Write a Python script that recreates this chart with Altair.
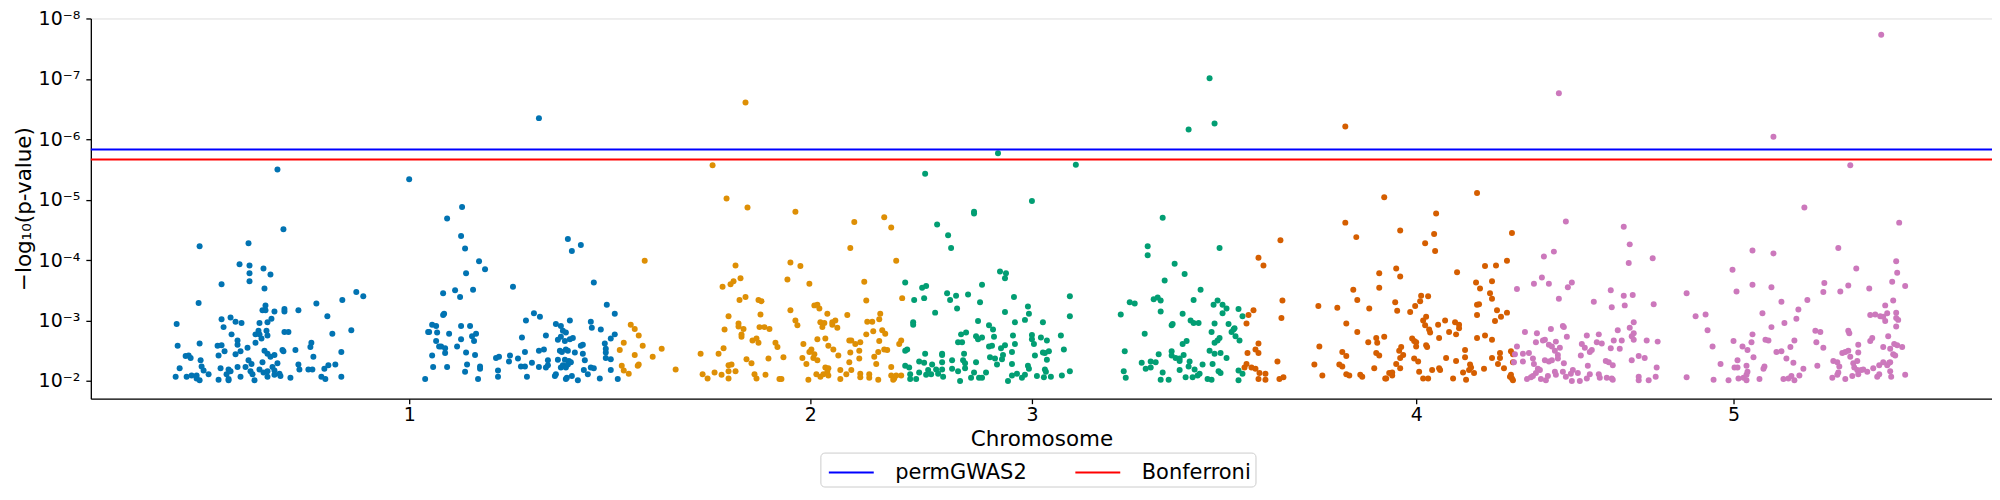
import pandas as pd
import altair as alt

# chromosome names, colours (seaborn colorblind) and where the axis puts their labels
chromosomes = ["1", "2", "3", "4", "5"]
chrom_colors = ["#0173B2", "#DE8F05", "#029E73", "#D55E00", "#CC78BC"]
chrom_tick_pos = [410, 812, 1034, 1419, 1737]

# y ticks (log10 p) and their labels
ytick_values = [-8, -7, -6, -5, -4, -3, -2]
ytick_labels = ["10⁻⁸", "10⁻⁷", "10⁻⁶", "10⁻⁵", "10⁻⁴", "10⁻³", "10⁻²"]

# significance thresholds
threshold_names = ["permGWAS2", "Bonferroni"]
threshold_log10p = [-5.83, -5.666]
threshold_colors = ["#0000FF", "#FF0000"]

# (cumulative position, log10 p-value) per chromosome
chr1 = [
    (177, -2.94), (178, -2.58), (176, -2.07), (180, -2.21), (186, -2.41), (189, -2.42), (191, -2.38),
    (187, -2.07), (192, -2.09), (197, -2.04), (197, -2.09), (199, -3.29), (200, -4.23), (200, -2.62),
    (201, -2.34), (200, -2.01), (202, -2.24), (204, -2.17), (209, -2.11), (218, -2.58), (219, -2.42),
    (219, -2.02), (221, -2.21), (222, -3.60), (222, -3.02), (222, -2.59), (224, -2.89), (225, -2.49),
    (227, -2.11), (229, -2.19), (229, -2.03), (229, -2.01), (231, -3.05), (231, -2.16), (232, -2.77),
    (236, -2.98), (236, -2.44), (238, -2.67), (238, -2.60), (238, -2.23), (240, -3.93), (241, -2.07),
    (241, -2.49), (242, -2.96), (246, -2.23), (248, -2.55), (249, -4.28), (249, -2.34), (250, -3.91),
    (250, -3.78), (250, -3.65), (251, -2.16), (252, -2.28), (253, -2.11), (255, -2.01), (256, -2.77),
    (256, -2.63), (259, -2.83), (260, -2.77), (260, -2.96), (260, -2.19), (262, -2.70), (263, -2.31),
    (263, -3.17), (264, -3.86), (264, -2.14), (265, -3.53), (265, -2.50), (266, -3.25), (266, -3.17),
    (267, -2.83), (268, -2.97), (268, -2.75), (268, -2.45), (268, -2.16), (268, -2.07), (271, -3.76),
    (271, -2.40), (272, -3.03), (273, -2.23), (275, -3.15), (275, -2.43), (275, -2.17), (275, -2.10),
    (278, -5.50), (278, -2.29), (280, -2.12), (281, -2.08), (283, -2.51), (284, -4.51), (284, -2.49),
    (285, -3.19), (285, -3.15), (285, -2.81), (289, -2.81), (291, -2.05), (296, -2.51), (299, -3.17),
    (299, -2.27), (300, -2.19), (309, -2.19), (311, -2.56), (312, -2.63), (313, -2.19), (314, -2.40),
    (317, -3.28), (322, -2.07), (325, -2.20), (326, -2.03), (328, -3.07), (329, -2.26), (333, -2.78),
    (336, -2.27), (342, -2.48), (342, -2.07), (343, -3.34), (352, -2.84), (357, -3.47), (364, -3.40),
    (410, -5.34), (426, -2.03), (429, -2.81), (430, -2.81), (433, -2.93), (433, -2.42), (434, -2.23),
    (437, -2.66), (437, -2.91), (438, -2.80), (440, -2.57), (442, -2.57), (444, -3.45), (444, -3.09),
    (445, -3.11), (446, -2.54), (446, -2.46), (448, -4.69), (448, -2.23), (450, -2.78), (456, -3.50),
    (458, -2.57), (461, -3.39), (462, -4.40), (462, -2.91), (462, -2.69), (463, -4.88), (466, -4.19),
    (466, -2.15), (467, -3.78), (467, -2.47), (468, -2.27), (471, -2.91), (473, -2.74), (474, -3.51),
    (475, -2.66), (476, -2.43), (477, -2.78), (479, -2.03), (480, -3.98), (481, -2.24), (481, -2.20),
    (486, -3.85), (497, -2.38), (499, -2.17), (499, -2.07), (500, -2.40), (510, -2.32), (511, -2.42),
    (514, -3.56), (519, -2.37), (522, -2.24), (523, -2.72), (526, -2.48), (526, -2.24), (527, -3.00),
    (528, -2.07), (533, -2.30), (535, -3.12), (540, -6.35), (540, -2.50), (540, -2.23), (541, -3.06),
    (545, -2.52), (547, -2.75), (547, -2.22), (549, -2.34), (549, -2.26), (556, -2.08), (557, -2.94),
    (557, -2.11), (559, -2.68), (559, -2.35), (561, -2.50), (562, -2.91), (562, -2.73), (562, -2.22),
    (563, -2.48), (564, -2.83), (564, -2.26), (566, -2.66), (566, -2.35), (567, -2.80), (567, -2.52),
    (567, -2.22), (567, -2.03), (568, -2.05), (569, -4.35), (569, -2.50), (569, -2.27), (570, -2.33),
    (571, -3.00), (571, -2.69), (572, -2.31), (573, -4.15), (573, -2.08), (574, -2.71), (576, -2.47),
    (579, -2.01), (582, -4.25), (582, -2.58), (584, -2.60), (584, -2.45), (585, -2.18), (586, -2.34),
    (589, -2.11), (592, -2.98), (592, -2.22), (593, -2.88), (595, -3.63), (595, -2.21), (601, -2.04),
    (602, -2.85), (606, -2.62), (607, -2.53), (607, -2.47), (607, -2.38), (608, -3.26), (612, -2.70),
    (612, -2.36), (612, -2.18), (616, -3.11), (616, -2.77), (619, -2.03),
]
chr2 = [
    (621, -2.51), (623, -2.25), (625, -2.63), (625, -2.17), (630, -2.12), (632, -2.93), (636, -2.86),
    (636, -2.43), (639, -2.25), (640, -2.75), (640, -2.27), (644, -2.58), (646, -3.99), (654, -2.40),
    (663, -2.53), (677, -2.19), (702, -2.45), (704, -2.11), (709, -2.04), (714, -5.57), (716, -2.14),
    (720, -2.45), (723, -2.10), (724, -3.56), (725, -2.54), (726, -2.85), (728, -5.02), (730, -3.07),
    (730, -2.26), (730, -2.16), (730, -2.04), (732, -3.60), (733, -2.27), (735, -3.65), (737, -3.91),
    (737, -2.16), (740, -2.95), (740, -2.90), (741, -3.34), (742, -3.70), (743, -2.73), (743, -2.77),
    (745, -2.86), (747, -6.61), (747, -3.39), (748, -2.36), (749, -4.87), (753, -2.29), (754, -2.67),
    (756, -2.11), (758, -2.70), (758, -2.04), (760, -3.34), (760, -2.63), (761, -2.89), (762, -3.10),
    (763, -3.32), (766, -2.89), (767, -2.10), (770, -2.37), (771, -2.86), (777, -2.63), (779, -2.56),
    (781, -2.03), (783, -2.03), (785, -2.39), (789, -3.68), (792, -3.96), (792, -3.17), (797, -4.80),
    (797, -3.00), (799, -2.92), (802, -3.90), (804, -2.38), (805, -2.61), (808, -2.28), (810, -2.02),
    (811, -3.61), (811, -2.48), (813, -2.52), (815, -2.38), (816, -3.25), (816, -2.44), (818, -2.11),
    (819, -3.26), (819, -2.69), (819, -2.34), (821, -3.20), (822, -2.97), (822, -2.07), (824, -2.89),
    (825, -2.11), (826, -2.96), (827, -2.70), (827, -2.22), (829, -3.11), (829, -2.15), (830, -2.58),
    (830, -2.21), (830, -2.09), (834, -2.93), (834, -2.97), (835, -2.52), (837, -3.00), (839, -2.88),
    (840, -2.42), (842, -2.18), (842, -2.03), (848, -2.11), (849, -3.09), (851, -2.31), (851, -2.67),
    (852, -4.20), (852, -2.47), (853, -2.18), (853, -2.67), (856, -4.63), (857, -2.61), (861, -2.50),
    (861, -2.37), (862, -2.64), (862, -2.12), (862, -2.06), (866, -3.64), (868, -3.33), (868, -2.77),
    (869, -2.98), (871, -2.11), (871, -2.05), (874, -2.98), (875, -2.82), (876, -2.40), (878, -2.28),
    (880, -2.02), (880, -2.48), (881, -3.02), (881, -2.66), (882, -3.11), (884, -2.84), (886, -4.71),
    (886, -2.52), (887, -2.78), (889, -2.51), (893, -4.54), (893, -2.23), (893, -2.09), (895, -2.02),
    (896, -2.04), (898, -3.99), (898, -2.09), (901, -2.61), (903, -2.67), (903, -2.09), (904, -3.37),
]
chr3 = [
    (907, -3.63), (907, -2.50), (907, -2.25), (909, -2.52), (911, -2.22), (912, -2.11), (912, -2.03),
    (915, -2.97), (915, -2.93), (916, -3.34), (918, -2.03), (921, -2.32), (921, -2.14), (924, -3.54),
    (926, -3.37), (926, -2.30), (927, -5.43), (927, -2.45), (928, -3.57), (928, -2.10), (930, -2.18),
    (933, -2.11), (934, -2.27), (937, -3.13), (938, -2.19), (939, -4.59), (940, -2.12), (944, -2.45),
    (944, -2.43), (944, -2.31), (944, -2.19), (945, -2.07), (949, -3.45), (950, -4.41), (952, -3.34),
    (953, -4.20), (954, -2.34), (954, -2.20), (958, -3.41), (959, -3.20), (960, -2.64), (960, -2.16),
    (962, -2.00), (963, -2.77), (964, -2.64), (965, -2.34), (966, -2.45), (967, -2.29), (967, -2.21),
    (968, -2.80), (970, -3.43), (973, -2.05), (976, -4.80), (976, -4.77), (976, -2.14), (978, -2.74),
    (978, -2.31), (980, -2.99), (980, -2.69), (981, -2.05), (982, -3.30), (984, -3.59), (984, -2.72),
    (984, -2.05), (988, -2.14), (991, -2.92), (991, -2.57), (992, -2.39), (994, -2.58), (995, -2.85),
    (996, -2.73), (997, -2.37), (999, -2.27), (1000, -5.77), (1002, -3.81), (1003, -2.54), (1004, -2.36),
    (1005, -2.43), (1007, -3.14), (1007, -3.70), (1007, -2.59), (1008, -3.78), (1010, -2.00), (1014, -2.48),
    (1014, -2.28), (1014, -2.09), (1015, -2.75), (1016, -3.39), (1017, -2.97), (1017, -2.61), (1019, -2.12),
    (1024, -2.05), (1027, -3.01), (1027, -2.10), (1030, -3.23), (1030, -2.25), (1031, -3.11), (1031, -2.20),
    (1034, -4.98), (1034, -2.76), (1034, -2.69), (1036, -2.61), (1037, -2.42), (1039, -2.08), (1043, -2.72),
    (1045, -2.97), (1045, -2.47), (1046, -2.06), (1047, -2.46), (1047, -2.19), (1048, -2.15), (1049, -2.67),
    (1049, -2.35), (1051, -2.49), (1053, -2.07), (1063, -2.75), (1064, -2.09), (1066, -2.52), (1072, -3.40),
    (1072, -3.07), (1072, -2.16), (1078, -5.58),
    (1123, -3.10), (1126, -2.16), (1127, -2.49), (1128, -2.05), (1132, -3.30), (1137, -3.28), (1144, -2.30),
    (1147, -2.78), (1148, -2.20), (1150, -4.23), (1150, -4.08), (1153, -2.32), (1153, -2.22), (1156, -3.35),
    (1158, -2.31), (1160, -3.38), (1161, -2.44), (1163, -3.33), (1163, -3.15), (1163, -2.02), (1165, -4.70),
    (1165, -2.14), (1167, -3.66), (1171, -2.02), (1174, -2.49), (1174, -2.42), (1174, -2.92), (1175, -2.94),
    (1177, -3.94), (1178, -2.38), (1182, -2.37), (1182, -2.33), (1182, -2.18), (1185, -3.11), (1185, -2.61),
    (1186, -2.43), (1187, -3.77), (1188, -2.06), (1189, -2.66), (1191, -6.16), (1191, -2.24), (1192, -2.32),
    (1193, -3.00), (1195, -2.06), (1196, -3.34), (1196, -2.96), (1197, -2.19), (1200, -2.09), (1201, -2.96),
    (1202, -2.12), (1203, -3.51), (1205, -2.27), (1210, -2.03), (1212, -7.01), (1212, -2.50), (1214, -2.81),
    (1214, -2.02), (1215, -2.28), (1216, -3.26), (1217, -6.26), (1217, -2.95), (1217, -2.63), (1217, -2.45),
    (1220, -3.33), (1220, -2.67), (1221, -2.16), (1222, -4.20), (1222, -2.71), (1223, -2.46), (1223, -2.13),
    (1225, -3.26), (1225, -3.12), (1229, -3.20), (1229, -2.38), (1231, -2.94), (1234, -2.81), (1236, -2.85),
    (1237, -2.87), (1238, -2.74), (1241, -3.19), (1241, -2.17), (1241, -2.01), (1242, -2.67), (1245, -3.07),
    (1245, -2.12),
]
chr4 = [
    (1247, -2.22), (1249, -2.95), (1249, -2.28), (1250, -2.46), (1251, -3.09), (1254, -2.22), (1256, -3.17),
    (1258, -2.52), (1258, -2.20), (1261, -4.04), (1261, -2.62), (1261, -2.46), (1261, -2.03), (1262, -2.13),
    (1266, -3.91), (1268, -2.12), (1268, -2.02), (1280, -2.32), (1282, -2.03), (1283, -4.33), (1284, -3.04),
    (1285, -3.33), (1286, -2.06), (1317, -2.27), (1321, -3.24), (1322, -2.57), (1325, -2.09), (1340, -3.21),
    (1342, -2.27), (1345, -2.48), (1345, -2.24), (1348, -6.21), (1348, -4.62), (1349, -2.95), (1349, -2.41),
    (1349, -2.11), (1352, -2.09), (1356, -3.51), (1359, -4.38), (1360, -3.34), (1360, -2.81), (1363, -2.10),
    (1365, -2.07), (1371, -2.64), (1372, -3.20), (1377, -2.21), (1379, -2.71), (1379, -2.46), (1380, -2.63),
    (1382, -3.78), (1382, -3.54), (1382, -2.42), (1387, -5.04), (1387, -2.73), (1388, -2.04), (1389, -2.04),
    (1392, -2.13), (1395, -2.09), (1395, -2.14), (1398, -3.30), (1399, -3.86), (1399, -2.28), (1400, -3.16),
    (1402, -2.50), (1403, -4.49), (1403, -3.73), (1403, -2.38), (1403, -2.21), (1404, -2.56), (1406, -2.43),
    (1413, -3.14), (1415, -2.70), (1417, -2.66), (1417, -2.37), (1418, -3.24), (1419, -2.64), (1419, -2.57),
    (1421, -2.32), (1422, -2.15), (1423, -3.32), (1424, -3.41), (1426, -3.00), (1426, -2.04), (1428, -4.28),
    (1428, -2.92), (1429, -3.06), (1429, -2.59), (1430, -2.56), (1431, -3.40), (1431, -2.04), (1432, -2.85),
    (1433, -2.80), (1435, -2.18), (1437, -4.43), (1438, -4.15), (1439, -4.77), (1441, -2.93), (1442, -2.71),
    (1442, -2.21), (1443, -2.18), (1448, -3.00), (1449, -2.38), (1452, -2.81), (1456, -2.04), (1458, -2.97),
    (1459, -2.77), (1459, -2.33), (1460, -3.80), (1462, -2.93), (1462, -2.87), (1466, -2.14), (1468, -2.51),
    (1468, -2.39), (1469, -2.02), (1472, -2.18), (1473, -2.27), (1474, -2.22), (1477, -2.13), (1479, -3.63),
    (1480, -5.11), (1480, -3.26), (1480, -3.09), (1480, -2.71), (1482, -3.27), (1483, -3.53), (1487, -2.20),
    (1488, -3.90), (1488, -2.75), (1493, -3.45), (1495, -3.36), (1495, -3.65), (1495, -2.68), (1495, -2.38),
    (1498, -2.99), (1499, -3.91), (1500, -3.17), (1501, -2.28), (1503, -2.46), (1503, -2.38), (1504, -3.06),
    (1507, -2.21), (1510, -3.99), (1510, -3.13), (1513, -2.07), (1514, -2.49), (1514, -2.10), (1515, -4.45),
    (1515, -2.04), (1516, -2.44), (1516, -2.31), (1516, -2.01),
]
chr5 = [
    (1517, -2.31), (1518, -2.44), (1520, -3.52), (1520, -2.57), (1526, -2.45), (1526, -2.32), (1528, -2.81),
    (1530, -2.03), (1532, -2.46), (1534, -2.06), (1536, -2.37), (1536, -2.08), (1537, -3.61), (1537, -2.28),
    (1539, -2.64), (1539, -2.13), (1540, -2.79), (1541, -2.20), (1543, -2.18), (1544, -2.03), (1545, -3.71),
    (1546, -2.67), (1547, -4.06), (1548, -2.68), (1548, -2.34), (1549, -2.01), (1551, -2.08), (1552, -3.61),
    (1552, -2.60), (1552, -2.32), (1554, -2.86), (1555, -2.57), (1555, -2.34), (1557, -4.14), (1558, -2.50),
    (1558, -2.15), (1559, -2.65), (1559, -2.10), (1561, -2.43), (1561, -2.37), (1562, -6.76), (1562, -3.36),
    (1563, -2.55), (1566, -2.91), (1566, -2.15), (1567, -2.89), (1567, -2.29), (1569, -4.64), (1569, -2.07),
    (1570, -2.73), (1571, -3.55), (1574, -2.12), (1575, -2.00), (1575, -3.63), (1576, -2.18), (1581, -2.13),
    (1583, -2.00), (1584, -2.42), (1585, -2.61), (1588, -2.55), (1590, -2.75), (1590, -2.04), (1591, -2.25),
    (1593, -2.48), (1593, -2.11), (1595, -2.51), (1597, -3.31), (1600, -2.64), (1602, -2.77), (1602, -2.11),
    (1603, -2.05), (1605, -2.62), (1609, -2.33), (1610, -2.05), (1612, -2.31), (1614, -3.50), (1614, -2.54),
    (1615, -3.22), (1615, -2.04), (1616, -2.26), (1616, -2.02), (1617, -2.67), (1621, -2.84), (1623, -2.53),
    (1625, -2.67), (1627, -4.55), (1627, -3.41), (1628, -3.25), (1632, -3.95), (1633, -4.26), (1633, -2.88),
    (1635, -2.74), (1635, -2.34), (1636, -3.42), (1637, -2.97), (1637, -2.79), (1637, -2.68), (1642, -2.41),
    (1642, -2.01), (1642, -2.07), (1648, -2.38), (1650, -2.67), (1652, -2.01), (1656, -4.03), (1657, -3.27),
    (1659, -2.07), (1660, -2.22), (1661, -2.65), (1690, -3.45), (1690, -2.06),
    (1699, -3.07), (1709, -3.10), (1711, -2.84), (1716, -2.57), (1717, -2.02), (1724, -2.28), (1732, -2.01),
    (1736, -3.84), (1737, -2.66), (1738, -2.22), (1740, -3.48), (1741, -2.34), (1741, -2.22), (1742, -2.04),
    (1746, -2.57), (1747, -2.05), (1750, -2.25), (1750, -2.10), (1750, -2.01), (1751, -2.51), (1751, -2.15),
    (1755, -2.64), (1756, -4.16), (1756, -3.59), (1756, -2.77), (1757, -2.39), (1763, -2.03), (1766, -3.12),
    (1767, -2.20), (1768, -2.24), (1769, -2.68), (1772, -2.67), (1775, -3.55), (1775, -2.89), (1777, -6.04),
    (1777, -4.11), (1780, -2.48), (1785, -3.31), (1785, -2.49), (1787, -2.03), (1788, -2.96), (1790, -2.37),
    (1792, -2.04), (1794, -2.56), (1795, -2.08), (1797, -2.30), (1798, -2.67), (1798, -2.01), (1800, -3.03),
    (1802, -3.18), (1803, -2.09), (1807, -2.20), (1808, -4.87), (1811, -3.34), (1819, -2.83), (1820, -2.64),
    (1821, -2.25), (1824, -2.81), (1827, -3.47), (1827, -2.55), (1828, -3.62), (1836, -2.05), (1837, -2.33),
    (1841, -2.31), (1841, -2.10), (1842, -4.20), (1842, -2.14), (1843, -2.24), (1844, -3.48), (1846, -2.46),
    (1849, -2.48), (1849, -2.03), (1852, -3.58), (1852, -2.83), (1852, -2.50), (1853, -2.79), (1854, -5.57),
    (1854, -2.40), (1856, -2.08), (1857, -2.29), (1858, -2.22), (1860, -3.86), (1861, -2.33), (1861, -2.18),
    (1862, -2.60), (1862, -2.47), (1862, -2.11), (1865, -2.18), (1867, -2.19), (1871, -2.15), (1873, -3.53),
    (1874, -3.09), (1874, -2.66), (1876, -2.71), (1877, -2.21), (1879, -3.10), (1881, -2.07), (1883, -2.26),
    (1883, -2.11), (1884, -3.07), (1885, -7.73), (1887, -3.06), (1887, -2.56), (1887, -2.31), (1889, -3.25),
    (1889, -2.99), (1891, -3.12), (1891, -2.26), (1892, -2.74), (1893, -2.30), (1894, -2.53), (1894, -2.31),
    (1894, -2.16), (1895, -2.07), (1896, -3.64), (1897, -3.33), (1897, -2.44), (1898, -2.61), (1899, -2.42),
    (1900, -3.98), (1900, -3.04), (1900, -2.90), (1900, -3.13), (1901, -3.79), (1901, -2.59), (1902, -3.01),
    (1903, -4.62), (1906, -2.56), (1909, -3.57), (1909, -2.10),
]

rows = []
for name, pts in zip(chromosomes, [chr1, chr2, chr3, chr4, chr5]):
    for pos, lp in pts:
        rows.append({"Chromosome": name, "pos": pos, "log10p": lp})
snps = pd.DataFrame(rows)

lines = pd.DataFrame({"method": threshold_names, "log10p": threshold_log10p})

ylabel_expr = "".join(f"datum.value == {v} ? '{l}' : " for v, l in zip(ytick_values, ytick_labels)) + "''"
xlabel_expr = "".join(f"datum.value == {v} ? '{c}' : " for v, c in zip(chrom_tick_pos, chromosomes)) + "''"

x_enc = alt.X(
    "pos:Q",
    title="Chromosome",
    scale=alt.Scale(domain=[91, 1996], nice=False, zero=False),
    axis=alt.Axis(values=chrom_tick_pos, labelExpr=xlabel_expr, grid=False, tickSize=5,
                  labelPadding=2, titlePadding=4, labelAngle=0),
)
y_enc = alt.Y(
    "log10p:Q",
    title="−log₁₀(p-value)",
    scale=alt.Scale(domain=[-8, -1.705], nice=False, zero=False, reverse=True),
    axis=alt.Axis(values=ytick_values, labelExpr=ylabel_expr, grid=False, tickSize=5,
                  labelPadding=6, titlePadding=3),
)

points = alt.Chart(snps).mark_circle(size=36, opacity=1).encode(
    x=x_enc,
    y=y_enc,
    color=alt.Color("Chromosome:N", scale=alt.Scale(domain=chromosomes, range=chrom_colors), legend=None),
)

# legend lines: a 30px symbol box with a 45px line drawn through it
rules = alt.Chart(lines).mark_rule(strokeWidth=2).encode(
    y=alt.Y("log10p:Q"),
    color=alt.Color(
        "method:N",
        scale=alt.Scale(domain=threshold_names, range=threshold_colors),
        legend=alt.Legend(
            title=None, orient="none", legendX=731, legendY=435, direction="horizontal",
            symbolType="M-1.5,0H1.5", symbolSize=900, symbolStrokeWidth=2, symbolOffset=11,
            labelFontSize=21, labelOffset=28, columnPadding=44, padding=4,
            strokeColor="#cccccc", cornerRadius=4, fillColor="#ffffff",
        ),
    ),
)

chart = alt.layer(points, rules).resolve_scale(color="independent").properties(
    width=1905,
    height=381,
    autosize=alt.AutoSizeParams(type="none"),
    padding={"left": 83, "top": 10, "right": 0, "bottom": 93},
).configure_view(
    stroke=None
).configure(
    font="DejaVu Sans"
).configure_axis(
    domainColor="black", tickColor="black", labelColor="black", titleColor="black",
    labelFontSize=19, titleFontSize=21.5, titleFontWeight="normal",
    domainWidth=1.3, tickWidth=1.3,
).configure_legend(
    labelColor="black", labelFont="DejaVu Sans",
)

chart.save("out.html", embed_options={"renderer": "svg", "actions": False})
